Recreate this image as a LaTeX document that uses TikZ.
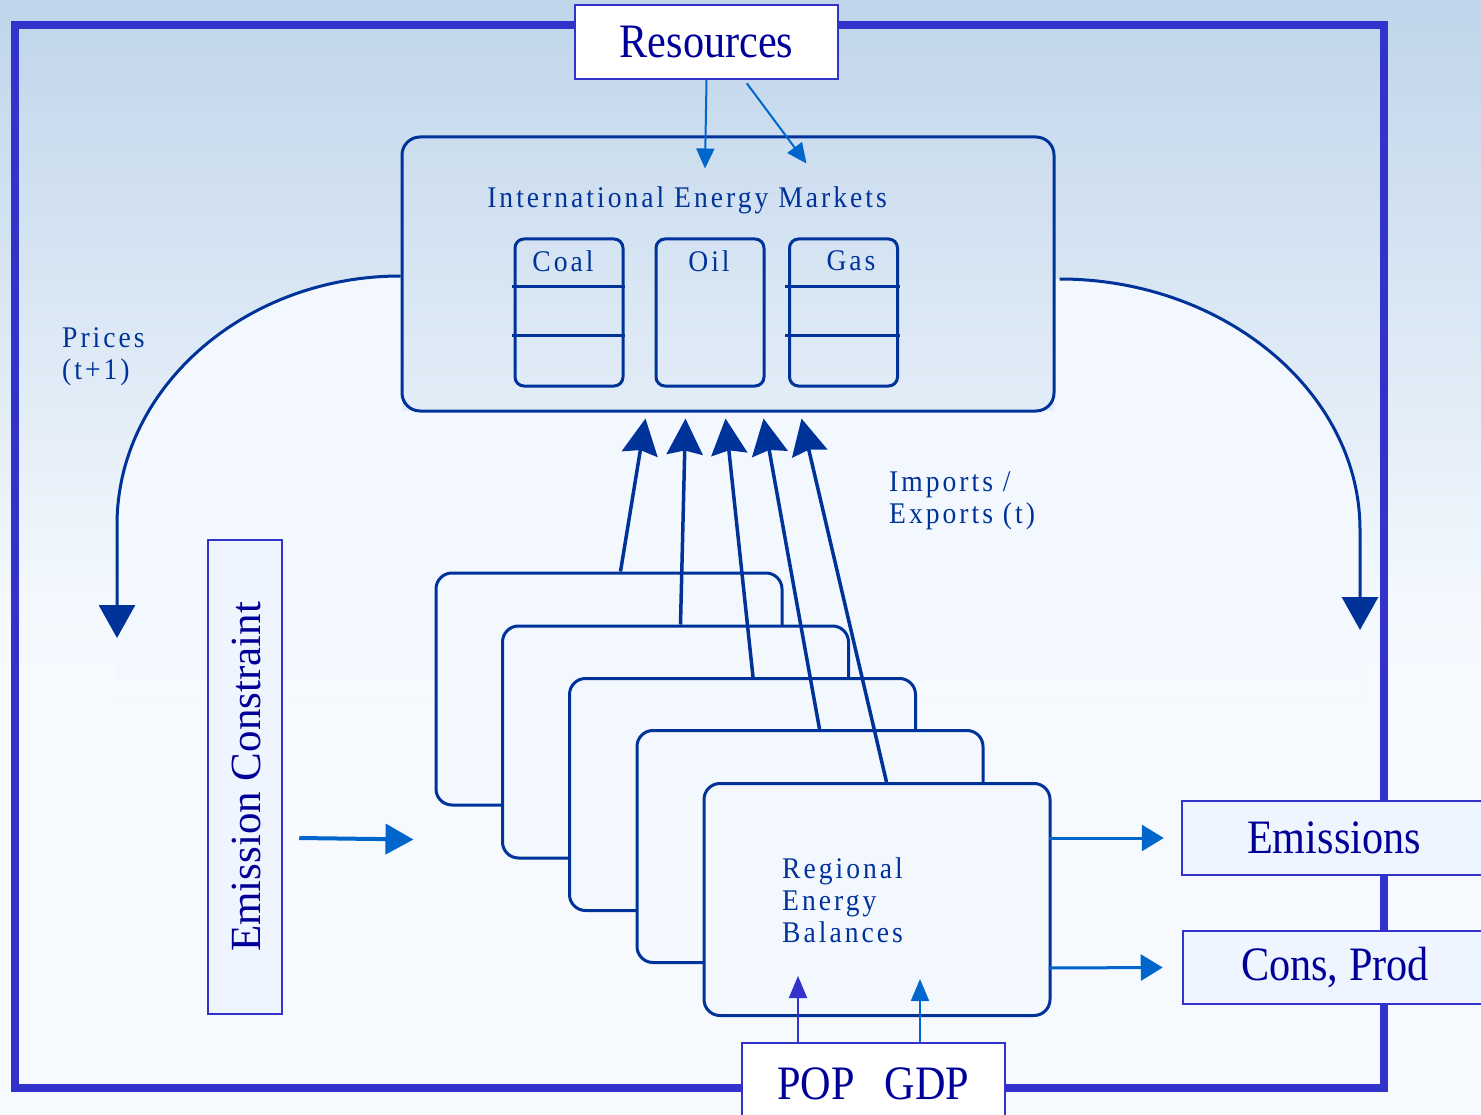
\documentclass[tikz,border=0pt]{standalone}
\usepackage{fontspec}
\setmainfont{Liberation Serif}
\newfontfamily\cond[FakeStretch=0.88]{Liberation Serif}
\newfontfamily\spc[FakeStretch=0.92,LetterSpace=10]{Liberation Serif}
\usetikzlibrary{arrows.meta,calc}
\definecolor{frameblue}{RGB}{51,51,204}
\definecolor{navy}{RGB}{0,51,153}
\definecolor{txtblue}{RGB}{0,0,153}
\definecolor{midblue}{RGB}{0,102,204}
\definecolor{paleblue}{RGB}{243,248,255}
\definecolor{boxfill}{RGB}{238,245,255}
\definecolor{skytop}{RGB}{192,213,234}
\definecolor{skylow}{RGB}{243,248,254}
\definecolor{lowbg}{RGB}{246,250,255}
\tikzset{
  rbox/.style={draw=navy, line width=3pt, rounded corners=16pt, fill=paleblue, inner sep=0pt},
  fuelbox/.style={draw=navy, line width=3pt, rounded corners=9pt, inner sep=0pt, minimum width=108pt, minimum height=147pt},
  pbox/.style={draw=frameblue, line width=2.5pt, fill=boxfill, inner sep=0pt, text=txtblue},
  bigtxt/.style={font=\cond\fontsize{48}{52}\selectfont},
  lbl/.style={text=navy, font=\spc\fontsize{30}{32}\selectfont, align=left, inner sep=0pt},
  curve/.style={draw=navy, line width=3pt},
  bigtip/.style={-{Triangle[length=33pt,width=36pt]}},
  uptip/.style={draw=navy, line width=3.5pt, -{Stealth[length=36pt,width=36pt,inset=4pt]}},
  thinarrow/.style={draw=midblue, line width=2pt, -{Triangle[length=20pt,width=18pt]}},
  outarrow/.style={draw=midblue, line width=3pt, -{Triangle[length=22pt,width=26pt]}},
}
\begin{document}
\begin{tikzpicture}[x=1pt,y=-1pt]
\useasboundingbox (0,0) rectangle (1481,1115);
% background
\shade[top color=skytop, bottom color=skylow] (0,0) rectangle (1481,600);
\shade[top color=skylow, bottom color=lowbg] (0,600) rectangle (1481,680);
\fill[lowbg] (0,680) rectangle (1481,1115);
% light region under the loop
\fill[paleblue] (117,700) -- (117,525) .. controls (117,388) and (245,276) .. (402,276)
  -- (402,411) -- (1054,411) -- (1054,279) -- (1058,279)
  .. controls (1224,279) and (1360,392) .. (1360,530) -- (1360,700) -- cycle;
\fill[lowbg] (117,680) rectangle (1360,700);
% frame
\draw[frameblue, line width=8pt] (15,25) rectangle (1384,1088);

% International energy markets
\node[draw=navy, line width=3pt, rounded corners=18pt, minimum width=652pt, minimum height=274pt, inner sep=0pt] (iem) at (728,274) {};
\node[lbl] (iemt) at (687,200) {International Energy Markets};
\node[fuelbox] (coal) at (569,312.5) {};
\node[fuelbox] (oil) at (710,312.5) {};
\node[fuelbox] (gas) at (843.5,312.5) {};
\node[lbl] (coalt) at (563,261) {Coal};
\node[lbl] (oilt) at (709,261) {Oil};
\node[lbl] (gast) at (851,261) {Gas};
\draw[navy, line width=3pt] ($(coal.north west)+(-2,49.5)$) -- ($(coal.north east)+(0,49.5)$);
\draw[navy, line width=3pt] ($(coal.north west)+(-2,98.5)$) -- ($(coal.north east)+(0,98.5)$);
\draw[navy, line width=3pt] ($(gas.north west)+(-3,49.5)$) -- ($(gas.north east)+(1,49.5)$);
\draw[navy, line width=3pt] ($(gas.north west)+(-3,98.5)$) -- ($(gas.north east)+(1,98.5)$);

% Resources
\node[pbox, fill=white, bigtxt, minimum width=263pt, minimum height=74pt] (res) at (706.5,42) {Resources};
\draw[thinarrow] (res.south) -- ($(iem.north west)+(304.5,33)$);
\draw[thinarrow] ($(res.south west)+(173,3)$) -- ($(iem.north west)+(406,28)$);

% price loops
\draw[curve, bigtip] ($(iem.west)+(0,2)$) .. controls (245,276) and (117,388) .. (117,525) -- (117,638);
\draw[curve, bigtip] ($(iem.east)+(4,5)$) .. controls (1224,279) and (1360,392) .. (1360,530) -- (1360,630);
\node[lbl, anchor=west] (prices) at (62,357) {Prices\\(t+1)};
\node[lbl, anchor=west] (impexp) at (889,501) {Imports /\\Exports (t)};

% regional stack
\node[rbox, minimum width=346pt, minimum height=232pt] (b1) at (609,689) {};
\node[rbox, minimum width=346pt, minimum height=232pt] (b2) at (675.5,742) {};
\node[rbox, minimum width=346pt, minimum height=232pt] (b3) at (742.5,794.5) {};
\node[rbox, minimum width=346pt, minimum height=232pt] (b4) at (810,846.5) {};
\node[rbox, minimum width=346pt, minimum height=232pt] (b5) at (877,899.5) {};
\node[lbl, anchor=west] (regt) at (782,900) {Regional\\Energy\\Balances};

\draw[uptip] ($(b1.north west)+(186,0)$) -- ($(iem.south west)+(245,6)$);
\draw[uptip] ($(b2.north west)+(179.5,0)$) -- ($(iem.south west)+(285,6)$);
\draw[uptip] ($(b3.north west)+(185,0)$) -- ($(iem.south west)+(325,6)$);
\draw[uptip] ($(b4.north west)+(184,0)$) -- ($(iem.south west)+(363,6)$);
\draw[uptip] ($(b5.north west)+(184,0)$) -- ($(iem.south west)+(401,6)$);

% emission constraint
\node[pbox, minimum width=74pt, minimum height=474pt] (ec) at (245,777) {};
\node[text=txtblue, font=\fontsize{43}{46}\selectfont, rotate=90, inner sep=0pt] (ect) at (246,777) {Emission Constraint};
\draw[midblue, line width=4pt, -{Triangle[length=28pt,width=30pt]}] ($(ec.east)+(16,61)$) -- ($(b1.south west)+(-21,33)$);

% outputs
\node[pbox, bigtxt, minimum width=304pt, minimum height=74pt] (emis) at (1334,838) {Emissions};
\node[pbox, bigtxt, minimum width=304pt, minimum height=73pt] (cons) at (1335,967.5) {Cons, Prod};
\draw[outarrow] ($(b5.east)+(-3,-61.5)$) -- ($(emis.west)+(-17,0)$);
\draw[outarrow] ($(b5.east)+(-3,68.5)$) -- ($(cons.west)+(-19,0)$);

% drivers
\node[pbox, fill=white, bigtxt, minimum width=263pt, minimum height=82pt] (pop) at (873.5,1084) {POP\hspace{30pt}GDP};
\draw[frameblue, line width=2pt, -{Triangle[length=22pt,width=18pt]}] ($(pop.north)+(-75.5,0)$) -- ($(b5.south)+(-79,-41)$);
\draw[midblue, line width=2pt, -{Triangle[length=22pt,width=18pt]}] ($(pop.north)+(46.5,0)$) -- ($(b5.south)+(43,-38)$);
\end{tikzpicture}
\end{document}
